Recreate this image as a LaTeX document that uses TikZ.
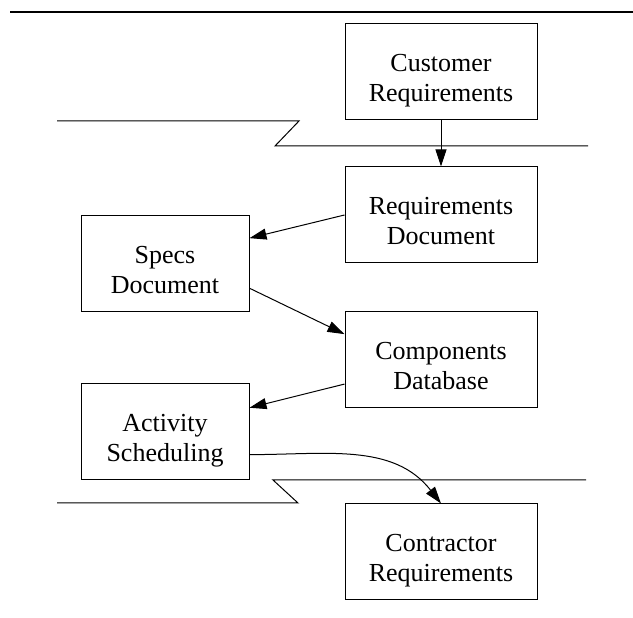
\documentclass[tikz,border=0pt]{standalone}
\usepackage{fontspec}
\setmainfont{Liberation Serif}
\usepackage{tikz}
\usetikzlibrary{arrows.meta,positioning}

\begin{document}
\begin{tikzpicture}[
      x=1pt, y=1pt,
      every node/.style={font=\fontsize{26}{30}\selectfont},
      blk/.style={draw, line width=1pt, minimum height=96pt,
                  minimum width=192pt, align=center, inner sep=2pt,
                  text height=60pt, text depth=0pt},
      sblk/.style={blk, minimum width=168pt},
      arr/.style={-{Triangle[length=17pt, width=11pt]}, line width=1pt},
      brk/.style={line width=1pt},
    ]
    \useasboundingbox (0,0) rectangle (633,618);

    % ── Top rule ────────────────────────────────────────────
    \coordinate (tl) at (10,606);
    \coordinate (tr) at (633,606);
    \draw[line width=1.5pt] (tl) -- (tr);

    % ── Right column ────────────────────────────────────────
    \node[blk] (cust) at (441,546) {Customer\\Requirements};
    \node[blk] (reqd) at (441,403) {Requirements\\Document};
    \node[blk] (comp) at (441,258) {Components\\Database};
    \node[blk] (cont) at (441,66)  {Contractor\\Requirements};

    % ── Left column ─────────────────────────────────────────
    \node[sblk] (spec) at (165,354) {Specs\\Document};
    \node[sblk] (act)  at (165,186) {Activity\\Scheduling};

    % ── Break lines ─────────────────────────────────────────
    \draw[brk] (57,497) -- (299,497) -- (275,472) -- (588,472);
    \draw[brk] (57,115) -- (298,115) -- (273,138) -- (586,138);

    % ── Arrows ──────────────────────────────────────────────
    \draw[arr] (cust.south) -- (reqd.north);
    \draw[arr] (reqd.west) -- (spec.17);
    \draw[arr] (spec.-16) -- (comp.165);
    \draw[arr] (comp.194) -- (act.16);
    \draw[arr] (act.-15) to[out=0, in=128] (cont.north);
  \end{tikzpicture}
\end{document}
